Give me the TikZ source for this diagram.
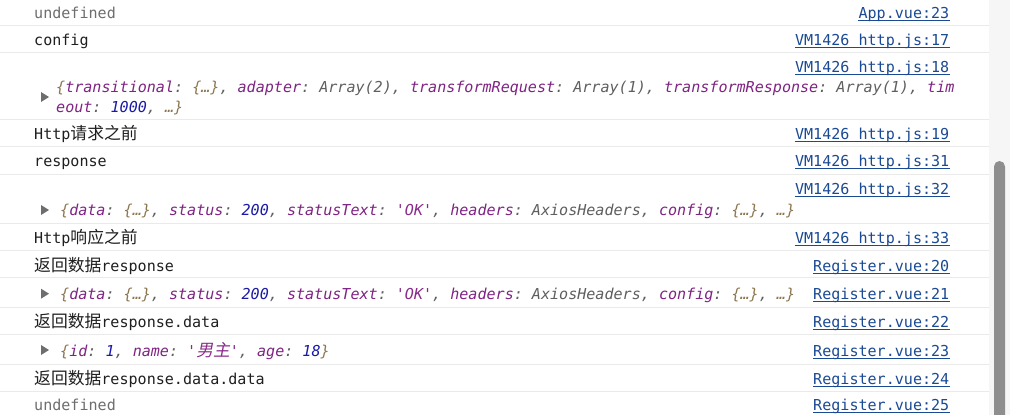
\documentclass[tikz,border=0pt]{standalone}
\usepackage{fontspec}
\newfontfamily\cmono{DejaVu Sans Mono}
\newfontfamily\cjkf{Noto Sans CJK SC}
\newfontfamily\cjkit[FakeSlant=0.2]{Noto Sans CJK SC}
\newcommand\cj[1]{{\cjkf\fontsize{16.8}{18}\selectfont #1}}
\newcommand\cji[1]{{\cjkit\fontsize{16.8}{18}\selectfont #1}}
\definecolor{ctext}{HTML}{1F1F1F}
\definecolor{cgrey}{HTML}{6E6E6E}
\definecolor{clink}{HTML}{1B4A94}
\definecolor{csep}{HTML}{EAEAEA}
\definecolor{ckey}{HTML}{7F2483}
\definecolor{cstr}{HTML}{8A2B8A}
\definecolor{cnum}{HTML}{1A1AA6}
\definecolor{cbr}{HTML}{8C7750}
\definecolor{cpun}{HTML}{5F5F5F}
\definecolor{ctri}{HTML}{6E6E6E}
\definecolor{ctrack}{HTML}{F6F6F6}
\definecolor{cthumb}{HTML}{8E8E8E}
\newcommand\okey[1]{\textcolor{ckey}{#1}}
\newcommand\ostr[1]{\textcolor{cstr}{#1}}
\newcommand\onum[1]{\textcolor{cnum}{#1}}
\newcommand\obr[1]{\textcolor{cbr}{#1}}
\frenchspacing
\begin{document}
\begin{tikzpicture}[x=1pt,y=-1pt,
  txt/.style={anchor=base west, inner sep=0pt, font=\cmono\frenchspacing\fontsize{15.07}{18}\selectfont, text=ctext},
  gtxt/.style={txt, text=cgrey},
  objtxt/.style={txt, font=\cmono\frenchspacing\itshape\fontsize{15.07}{18}\selectfont, text=cpun},
  lnk/.style={anchor=base east, inner sep=0pt, font=\cmono\frenchspacing\fontsize{15.07}{18}\selectfont, text=clink},
  ul/.style={draw=clink, line width=1pt},
  sepline/.style={draw=csep, line width=1pt},
  tri/.style={fill=ctri, draw=none}]
\useasboundingbox (0,0) rectangle (1010,415);
\fill[white] (0,0) rectangle (1010,415);
% scrollbar
\fill[ctrack] (989,0) rectangle (1010,415);
\fill[cthumb, rounded corners=5.5pt] (994,161) rectangle (1005,430);
% separators
\foreach \yy in {25,52,119.5,146.7,174.3,223.3,250,277.7,307.3,334,364.3,391.7}
  \draw[sepline] (0,\yy) -- (989,\yy);
% triangles
\foreach \yy in {97,210,293.7,350}
  \fill[tri] (41,\yy-5) -- (49,\yy) -- (41,\yy+5) -- cycle;
% messages
\node[gtxt] (m1) at (34,18) {undefined};
\node[txt] (m2) at (34,45.5) {config};
\node[objtxt] (m3a) at (56,92) {\obr{\{}\okey{transitional}: \obr{\{…\}}, \okey{adapter}: Array(2), \okey{transformRequest}: Array(1), \okey{transformResponse}: Array(1), \okey{tim}};
\node[objtxt] (m3b) at (56,112) {\okey{eout}: \onum{1000}, \obr{…\}}};
\node[txt] (m4) at (34,139) {Http\cj{请求之前}};
\node[txt] (m5) at (34,166.5) {response};
\node[objtxt] (m6) at (60,215.5) {\obr{\{}\okey{data}: \obr{\{…\}}, \okey{status}: \onum{200}, \okey{statusText}: \ostr{'OK'}, \okey{headers}: AxiosHeaders, \okey{config}: \obr{\{…\}}, \obr{…\}}};
\node[txt] (m7) at (34,243) {Http\cj{响应之前}};
\node[txt] (m8) at (34,271) {\cj{返回数据}response};
\node[objtxt] (m9) at (60,299.5) {\obr{\{}\okey{data}: \obr{\{…\}}, \okey{status}: \onum{200}, \okey{statusText}: \ostr{'OK'}, \okey{headers}: AxiosHeaders, \okey{config}: \obr{\{…\}}, \obr{…\}}};
\node[txt] (m10) at (34,327.5) {\cj{返回数据}response.data};
\node[objtxt] (m11) at (60,356) {\obr{\{}\okey{id}: \onum{1}, \okey{name}: \ostr{'\cji{男主}'}, \okey{age}: \onum{18}\obr{\}}};
\node[txt] (m12) at (34,384) {\cj{返回数据}response.data.data};
\node[gtxt] (m13) at (34,410.5) {undefined};
% links
\node[lnk] (l1) at (949.5,18) {App.vue:23};
\node[lnk] (l2) at (949.5,45.5) {VM1426 http.js:17};
\node[lnk] (l3) at (949.5,72.5) {VM1426 http.js:18};
\node[lnk] (l4) at (949.5,139) {VM1426 http.js:19};
\node[lnk] (l5) at (949.5,166.5) {VM1426 http.js:31};
\node[lnk] (l6) at (949.5,194.5) {VM1426 http.js:32};
\node[lnk] (l7) at (949.5,243) {VM1426 http.js:33};
\node[lnk] (l8) at (949.5,271) {Register.vue:20};
\node[lnk] (l9) at (949.5,299) {Register.vue:21};
\node[lnk] (l10) at (949.5,327.5) {Register.vue:22};
\node[lnk] (l11) at (949.5,356) {Register.vue:23};
\node[lnk] (l12) at (949.5,384) {Register.vue:24};
\node[lnk] (l13) at (949.5,410.5) {Register.vue:25};
\foreach \i in {1,...,13}
  \draw[ul] ([yshift=-2.3pt]l\i.base west) -- ([yshift=-2.3pt]l\i.base east);
\end{tikzpicture}
\end{document}
